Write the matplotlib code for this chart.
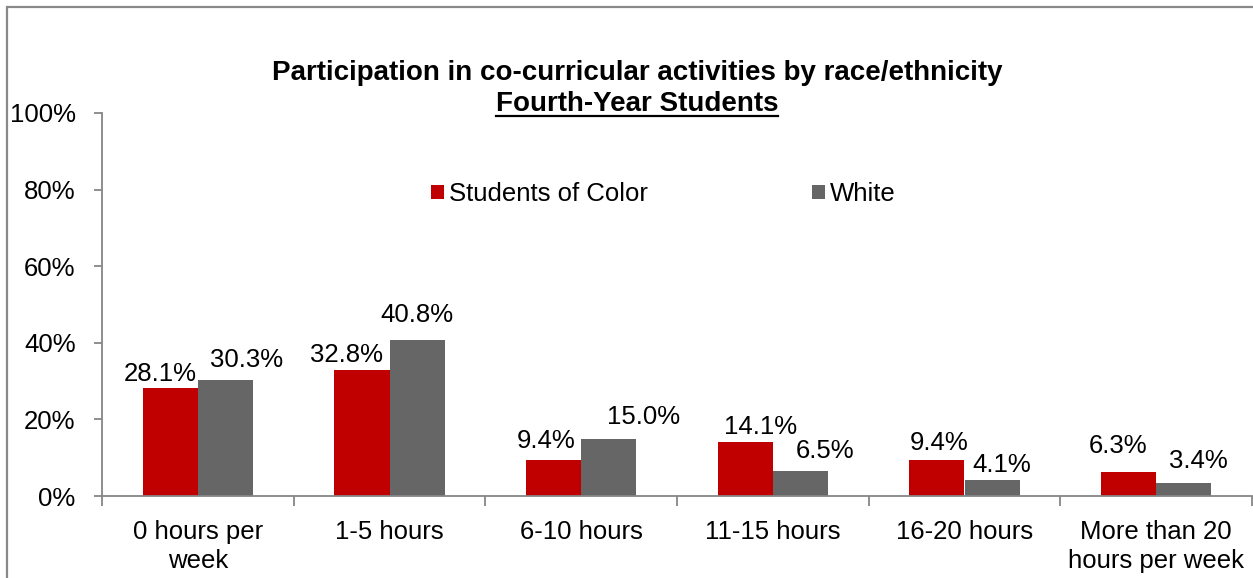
import matplotlib
matplotlib.use('Agg')
import matplotlib.pyplot as plt
from matplotlib.patches import Patch, Rectangle
from matplotlib.lines import Line2D
import numpy as np

# ---- data ----
categories = ["0 hours per\nweek", "1-5 hours", "6-10 hours", "11-15 hours",
              "16-20 hours", "More than 20\nhours per week"]
students_of_color = [28.1, 32.8, 9.4, 14.1, 9.4, 6.3]
white = [30.3, 40.8, 15.0, 6.5, 4.1, 3.4]
series_names = ["Students of Color", "White"]
yticks = [0, 20, 40, 60, 80, 100]
title_line1 = "Participation in co-curricular activities by race/ethnicity"
title_line2 = "Fourth-Year Students"

# ---- style ----
soc_offsets = [(-10, 7), (-15, 8), (-8, 12), (15, 8), (2, 10), (-11, 19)]
white_offsets = [(21, 13), (0, 18), (35, 15), (25, 13), (10, 8), (15, 15)]
RED = '#C00000'
GRAY = '#666666'
AXC = '#868686'
FS = 18.5

plt.rcParams['font.family'] = ['Liberation Sans', 'DejaVu Sans']

W, H = 1253, 578
fig = plt.figure(figsize=(W / 100, H / 100), dpi=100)
ax = fig.add_axes([102 / W, 1 - 496 / H, 1150 / W, 383 / H])

x = np.arange(len(categories))
bw = 0.287
b1 = ax.bar(x - bw / 2, students_of_color, bw, color=RED, label=series_names[0], zorder=2)
b2 = ax.bar(x + bw / 2, white, bw, color=GRAY, label=series_names[1], zorder=2)

ax.set_xlim(-0.5, len(categories) - 0.5)
ax.set_ylim(0, 100)
for s in ['top', 'right']:
    ax.spines[s].set_visible(False)
for s in ['left', 'bottom']:
    ax.spines[s].set_color(AXC)
    ax.spines[s].set_linewidth(1.3)

ax.set_yticks(yticks)
ax.set_yticklabels([f"{v}%" for v in yticks])
ax.tick_params(axis='y', direction='out', length=6, width=1.3, color=AXC,
               pad=13, labelsize=FS)

ax.set_xticks(np.arange(-0.5, len(categories), 1))
ax.set_xticklabels([])
ax.tick_params(axis='x', which='major', direction='out', length=7, width=1.3, color=AXC)
ax.set_xticks(x, minor=True)
ax.set_xticklabels(categories, minor=True, fontsize=FS, linespacing=1.3)
ax.tick_params(axis='x', which='minor', length=0, pad=17)

for rect, v, off in zip(b1, students_of_color, soc_offsets):
    ax.annotate(f"{v:.1f}%", (rect.get_x() + rect.get_width() / 2, v),
                xytext=off, textcoords='offset pixels', ha='center', va='baseline',
                fontsize=FS)
for rect, v, off in zip(b2, white, white_offsets):
    ax.annotate(f"{v:.1f}%", (rect.get_x() + rect.get_width() / 2, v),
                xytext=off, textcoords='offset pixels', ha='center', va='baseline',
                fontsize=FS)

handles = [Patch(facecolor=RED), Patch(facecolor=GRAY)]
ax.legend(handles, series_names, loc='center', bbox_to_anchor=(0.488, 0.788),
          ncol=2, frameon=False, fontsize=FS, handlelength=0.5, handleheight=0.5,
          handletextpad=0.2, columnspacing=6.4)

# title
tx = 637 / W
fig.text(tx, 1 - 80 / H, title_line1, ha='center', va='baseline',
         fontsize=20, fontweight='bold')
t2 = fig.text(tx, 1 - 111 / H, title_line2, ha='center', va='baseline',
              fontsize=20, fontweight='bold')
fig.canvas.draw()
bb = t2.get_window_extent(fig.canvas.get_renderer())
uy = (H - 116) / H
fig.add_artist(Line2D([bb.x0 / W, bb.x1 / W], [uy, uy], transform=fig.transFigure,
                      color='black', lw=1.6))

# outer chart border (extends beyond right/bottom edge)
fig.add_artist(Rectangle((7 / W, -0.2), 1.5, 1 - 7 / H + 0.2, transform=fig.transFigure,
                         fill=False, edgecolor='#898989', lw=1.6))

fig.savefig('out.png', dpi=100)
